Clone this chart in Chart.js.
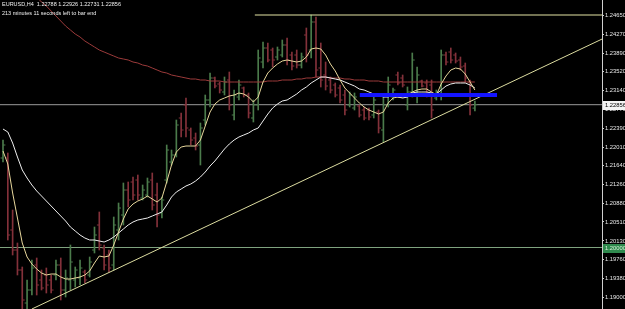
<!DOCTYPE html>
<html>
<head>
<meta charset="utf-8">
<script src="https://cdn.jsdelivr.net/npm/chart.js@4.4.1/dist/chart.umd.min.js"></script>
<style>
  html, body { margin: 0; padding: 0; background: #000; }
  #wrap { position: relative; width: 625px; height: 309px; overflow: hidden; }
  .info { position: absolute; left: 2px; color: #f0f0f0; font: 5.5px "Liberation Sans", sans-serif; white-space: pre; }
</style>
</head>
<body>
<div id="wrap">
  <canvas id="fxChart"></canvas>
  <div class="info" style="top:1px">EURUSD,H4  1.22788 1.22926 1.22731 1.22856</div>
  <div class="info" style="top:10px">213 minutes 11 seconds left to bar end</div>
</div>
<script>
// H4 bars, oldest first
const barOpen = [1.2179,1.2179,1.2035,1.1995,1.1955,1.1889,1.1915,1.1965,1.1935,1.1945,
  1.1935,1.1945,1.1965,1.1915,1.1935,1.1935,1.1939,1.1951,1.1945,1.1995,
  1.2045,1.1999,1.1985,1.1965,1.2035,1.2065,1.2115,1.2131,1.2135,1.2099,
  1.2105,1.2135,1.2105,1.2069,1.2135,1.2171,1.2185,1.2259,1.2285,1.2235,
  1.2219,1.2205,1.2255,1.2295,1.2339,1.2327,1.2311,1.2335,1.2265,1.2301,
  1.2319,1.2305,1.2259,1.2285,1.2371,1.2399,1.2395,1.2381,1.2385,1.2405,
  1.2385,1.2385,1.2365,1.2425,1.2395,1.2451,1.2359,1.2345,1.2335,1.2325,
  1.2319,1.2305,1.2285,1.2279,1.2283,1.2275,1.2275,1.2265,1.2271,1.2235,
  1.2285,1.2301,1.2345,1.2339,1.2285,1.2311,1.2305,1.2333,1.2329,1.2325,
  1.2299,1.2305,1.2385,1.2391,1.2385,1.2375,1.2363,1.2331,1.22788];
const barHigh = [1.2215,1.2189,1.2075,1.2009,1.1961,1.1935,1.1975,1.1979,1.1955,1.1959,
  1.1945,1.1975,1.1979,1.1955,1.2005,1.1961,1.1975,1.1955,1.1981,1.2041,
  1.2071,1.2005,1.1995,1.2061,1.2089,1.2129,1.2131,1.2141,1.2145,1.2125,
  1.2139,1.2149,1.2129,1.2101,1.2205,1.2195,1.2255,1.2269,1.2299,1.2239,
  1.2229,1.2249,1.2305,1.2349,1.2341,1.2331,1.2341,1.2351,1.2315,1.2335,
  1.2321,1.2309,1.2295,1.2395,1.2411,1.2409,1.2399,1.2401,1.2415,1.2419,
  1.2391,1.2395,1.2389,1.2439,1.2465,1.2461,1.2409,1.2371,1.2341,1.2329,
  1.2325,1.2315,1.2311,1.2309,1.2285,1.2281,1.2279,1.2305,1.2275,1.2301,
  1.2341,1.2319,1.2351,1.2345,1.2321,1.2389,1.2361,1.2335,1.2335,1.2335,
  1.2315,1.2395,1.2391,1.2399,1.2389,1.2381,1.2369,1.2335,1.22926];
const barLow = [1.2171,1.2015,1.1985,1.1945,1.1871,1.1871,1.1905,1.1905,1.1915,1.1909,
  1.1909,1.1935,1.1895,1.1901,1.1915,1.1921,1.1925,1.1929,1.1941,1.1989,
  1.1995,1.1955,1.1951,1.1955,1.2015,1.2045,1.2081,1.2095,1.2095,1.2095,
  1.2101,1.2075,1.2041,1.2059,1.2129,1.2165,1.2181,1.2221,1.2221,1.2205,
  1.2195,1.2165,1.2245,1.2281,1.2319,1.2309,1.2305,1.2275,1.2255,1.2295,
  1.2301,1.2259,1.2251,1.2275,1.2359,1.2371,1.2361,1.2375,1.2381,1.2365,
  1.2355,1.2359,1.2359,1.2371,1.2379,1.2341,1.2321,1.2315,1.2309,1.2301,
  1.2289,1.2265,1.2281,1.2275,1.2261,1.2255,1.2255,1.2259,1.2229,1.2211,
  1.2281,1.2295,1.2325,1.2321,1.2275,1.2301,1.2289,1.2321,1.2301,1.2259,
  1.2295,1.2295,1.2365,1.2369,1.2369,1.2355,1.2331,1.2265,1.22731];
const barClose = [1.2205,1.2025,1.1995,1.1955,1.1895,1.1915,1.1959,1.1925,1.1919,1.1925,
  1.1915,1.1965,1.1915,1.1939,1.1971,1.1955,1.1959,1.1935,1.1971,1.2025,
  1.2005,1.1965,1.1959,1.2045,1.2079,1.2115,1.2095,1.2105,1.2105,1.2115,
  1.2131,1.2085,1.2065,1.2095,1.2195,1.2185,1.2245,1.2235,1.2239,1.2215,
  1.2203,1.2239,1.2295,1.2339,1.2323,1.2315,1.2331,1.2285,1.2305,1.2325,
  1.2305,1.2269,1.2285,1.2379,1.2399,1.2375,1.2375,1.2395,1.2405,1.2375,
  1.2363,1.2365,1.2381,1.2385,1.2451,1.2355,1.2335,1.2323,1.2315,1.2305,
  1.2295,1.2275,1.2305,1.2301,1.2265,1.2259,1.2261,1.2295,1.2239,1.2285,
  1.2325,1.2315,1.2329,1.2325,1.2311,1.2375,1.2345,1.2323,1.2305,1.2275,
  1.2311,1.2385,1.2371,1.2375,1.2373,1.2361,1.2339,1.2285,1.22856];

// moving averages
const maFast = [1.2193,1.2167,1.2109,1.2059,1.2009,1.1981,1.1967,1.1957,1.1949,1.1945,
  1.1947,1.1947,1.1941,1.1937,1.1937,1.1939,1.1941,1.1945,1.1953,1.1969,
  1.1983,1.1981,1.1983,1.2005,1.2031,1.2057,1.2077,1.2087,1.2093,1.2097,
  1.2103,1.2097,1.2091,1.2099,1.2131,1.2165,1.2191,1.2201,1.2203,1.2203,
  1.2203,1.2215,1.2243,1.2271,1.2287,1.2295,1.2299,1.2303,1.2305,1.2309,
  1.2307,1.2301,1.2291,1.2301,1.2331,1.2349,1.2359,1.2367,1.2373,1.2375,
  1.2373,1.2371,1.2373,1.2381,1.2397,1.2399,1.2397,1.2385,1.2367,1.2353,
  1.2335,1.2319,1.2309,1.2299,1.2289,1.2281,1.2275,1.2271,1.2267,1.2271,
  1.2289,1.2299,1.2301,1.2301,1.2305,1.2311,1.2315,1.2317,1.2317,1.2311,
  1.2305,1.2327,1.2343,1.2355,1.2359,1.2357,1.2347,1.2331,1.2315];
const maMid = [1.2237,1.2231,1.2209,1.2181,1.2155,1.2139,1.2125,1.2113,1.2103,1.2093,
  1.2083,1.2073,1.2063,1.2053,1.2041,1.2033,1.2025,1.2019,1.2015,1.2015,
  1.2013,1.2011,1.2015,1.2021,1.2029,1.2037,1.2045,1.2051,1.2055,1.2057,
  1.2059,1.2063,1.2067,1.2071,1.2085,1.2101,1.2111,1.2117,1.2123,1.2127,
  1.2133,1.2141,1.2151,1.2163,1.2173,1.2185,1.2197,1.2207,1.2215,1.2221,
  1.2225,1.2229,1.2235,1.2239,1.2253,1.2267,1.2279,1.2287,1.2293,1.2295,
  1.2301,1.2307,1.2315,1.2321,1.2329,1.2335,1.2341,1.2341,1.2339,1.2337,
  1.2335,1.2331,1.2327,1.2323,1.2317,1.2315,1.2311,1.2307,1.2305,1.2301,
  1.2301,1.2305,1.2301,1.2299,1.2301,1.2309,1.2311,1.2311,1.2311,1.2309,
  1.2307,1.2315,1.2323,1.2327,1.2329,1.2329,1.2329,1.2325,1.2319];
const maSlow = [1.2583,1.2571,1.2559,1.2547,1.2535,1.2523,1.2513,1.2501,1.2491,1.2483,
  1.2473,1.2463,1.2453,1.2443,1.2435,1.2427,1.2421,1.2413,1.2407,1.2401,
  1.2395,1.2391,1.2387,1.2383,1.2379,1.2377,1.2375,1.2371,1.2369,1.2365,
  1.2363,1.2359,1.2355,1.2351,1.2349,1.2345,1.2343,1.2341,1.2339,1.2337,
  1.2337,1.2335,1.2335,1.2333,1.2333,1.2333,1.2331,1.2331,1.2331,1.2331,
  1.2331,1.2331,1.2331,1.2331,1.2331,1.2333,1.2333,1.2333,1.2335,1.2335,
  1.2335,1.2337,1.2337,1.2339,1.2339,1.2341,1.2341,1.2341,1.2339,1.2339,
  1.2339,1.2337,1.2337,1.2335,1.2335,1.2335,1.2333,1.2333,1.2333,1.2331,
  1.2331,1.2331,1.2331,1.2331,1.2331,1.2331,1.2331,1.2331,1.2331,1.2331,
  1.2331,1.2331,1.2331,1.2331,1.2331,1.2331,1.2331,1.2331,1.2331];

// price axis labels
const priceTicks = [1.24650,1.24270,1.23890,1.23520,1.23140,1.22770,1.22390,1.22010,
  1.21640,1.21260,1.20880,1.20510,1.20130,1.19760,1.19380,1.19000];

// drawn objects (bar index, price)
const trendLine = [{x: 6, y: 1.1877}, {x: 125, y: 1.24196}];
const topLevel = [{x: 52.3, y: 1.2465}, {x: 125, y: 1.2465}];
const blueLevel = [{x: 74.1, y: 1.2305}, {x: 102.6, y: 1.2305}];
const bidPrice = 1.22856;
const roundLevel = 1.20000;

const xMin = -0.623, xMax = 124.4;
const yMin = 1.1877, yMax = 1.2495;

const bull = '#4b7b4b', bear = '#83313a';
const tickFont = '"Liberation Sans", sans-serif';
const idx = barClose.map((c, i) => i);
const barColor = idx.map(i => barClose[i] >= barOpen[i] ? bull : bear);

function fullWidth(p) {
  return [{x: xMin, y: p}, {x: xMax, y: p}];
}

function lineSet(data, color, width, order) {
  return {
    type: 'line', data: data, borderColor: color, borderWidth: width,
    pointRadius: 0, pointHoverRadius: 0, tension: 0, fill: false, order: order
  };
}

// price boxes on the axis
const priceBoxes = {
  id: 'priceBoxes',
  afterDraw(chart) {
    const ctx = chart.ctx;
    const y = chart.scales.y;
    const left = chart.chartArea.right + 1;
    const boxes = [
      {v: bidPrice, bg: '#f4f4f4', fg: '#000'},
      {v: roundLevel, bg: '#2f8a4e', fg: '#d8f0d8'}
    ];
    ctx.save();
    ctx.font = '5.8px ' + tickFont;
    ctx.textBaseline = 'middle';
    boxes.forEach(b => {
      const py = Math.round(y.getPixelForValue(b.v));
      ctx.fillStyle = b.bg;
      ctx.fillRect(left, py - 4, 625 - left, 9);
      ctx.fillStyle = b.fg;
      ctx.fillText(b.v.toFixed(5), left + 2, py + 0.5);
    });
    ctx.restore();
  }
};

const ctx = document.getElementById('fxChart');
new Chart(ctx, {
  type: 'bar',
  data: {
    datasets: [
      lineSet(fullWidth(bidPrice), '#9a9a9a', 1, 10),
      lineSet(fullWidth(roundLevel), '#7fa37f', 1, 10),
      {
        type: 'bar',
        data: idx.map(i => ({x: i, y: [barLow[i], barHigh[i]]})),
        backgroundColor: barColor,
        barThickness: 1,
        order: 8
      },
      {
        type: 'line', showLine: false, order: 7,
        data: idx.map(i => ({x: i - 0.25, y: barOpen[i]})),
        pointStyle: 'line', pointRadius: 1.2, pointHoverRadius: 0, pointBorderWidth: 1,
        pointBorderColor: barColor, pointBackgroundColor: barColor
      },
      {
        type: 'line', showLine: false, order: 7,
        data: idx.map(i => ({x: i + 0.25, y: barClose[i]})),
        pointStyle: 'line', pointRadius: 1.2, pointHoverRadius: 0, pointBorderWidth: 1,
        pointBorderColor: barColor, pointBackgroundColor: barColor
      },
      lineSet(idx.map(i => ({x: i, y: maSlow[i]})), '#9b3a3a', 1, 5),
      lineSet(idx.map(i => ({x: i, y: maMid[i]})), '#eeeeee', 1, 4),
      lineSet(idx.map(i => ({x: i, y: maFast[i]})), '#e8d79c', 1, 3),
      lineSet(topLevel, '#e4e4a4', 1, 2),
      lineSet(trendLine, '#dcdca0', 1, 2),
      lineSet(blueLevel, '#1414ff', 4, 1)
    ]
  },
  options: {
    responsive: true,
    maintainAspectRatio: false,
    animation: false,
    devicePixelRatio: 1,
    layout: { padding: 0, autoPadding: false },
    plugins: { legend: { display: false }, tooltip: { enabled: false } },
    scales: {
      x: { type: 'linear', display: false, offset: false, min: xMin, max: xMax },
      y: {
        type: 'linear', position: 'right', min: yMin, max: yMax,
        afterBuildTicks: scale => { scale.ticks = priceTicks.map(v => ({value: v})); },
        afterFit: scale => { scale.width = 23; scale.paddingTop = 0; scale.paddingBottom = 0; },
        ticks: {
          color: '#e8e8e8', padding: 1,
          font: { size: 5.8, family: tickFont },
          callback: v => v.toFixed(5)
        },
        grid: { drawOnChartArea: false, tickLength: 2, color: '#cfcfcf' },
        border: { color: '#cfcfcf' }
      }
    }
  },
  plugins: [priceBoxes]
});
</script>
</body>
</html>
